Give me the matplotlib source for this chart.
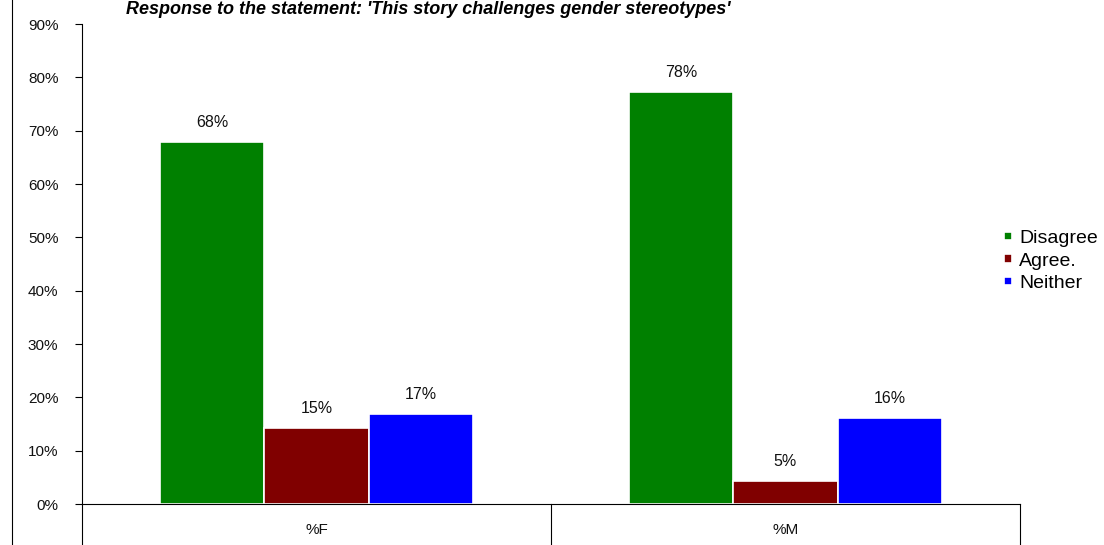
import matplotlib
matplotlib.use("Agg")
import matplotlib.pyplot as plt
from matplotlib.lines import Line2D
import numpy as np

plt.rcParams['font.family'] = ['Liberation Sans', 'DejaVu Sans']

categories = ['%F', '%M']
series = ['Disagree', 'Agree.', 'Neither']
disagree = [67.9, 77.3]
agree = [14.3, 4.3]
neither = [16.9, 16.1]
disagree_labels = ['68%', '78%']
agree_labels = ['15%', '5%']
neither_labels = ['17%', '16%']
yticks = [0, 10, 20, 30, 40, 50, 60, 70, 80, 90]
title = "Response to the statement: 'This story challenges gender stereotypes'"

colors = ['#008000', '#800000', '#0000FF']

fig = plt.figure(figsize=(11.04, 5.45), dpi=100)
ax = fig.add_axes([82/1104, 1-504/545, (1020-82)/1104, (504-24)/545])

x = np.arange(len(categories))
w = 0.222
vals = [disagree, agree, neither]
labs = [disagree_labels, agree_labels, neither_labels]
for i, (v, l, c, s) in enumerate(zip(vals, labs, colors, series)):
    bars = ax.bar(x + (i - 1) * w, v, width=w, color=c, edgecolor='white',
                  linewidth=1.2, label=s, zorder=2)
    for b, t in zip(bars, l):
        ax.text(b.get_x() + b.get_width()/2, b.get_height() + 2.2, t,
                ha='center', va='bottom', fontsize=11.5, color='#111111')

ax.set_xlim(-0.5, 1.5)
ax.set_ylim(0, 90)
ax.set_yticks(yticks)
ax.set_yticklabels([f'{t}%' for t in yticks], fontsize=11, color='#111111')
ax.tick_params(axis='y', direction='out', length=5, width=0.8, pad=12)
ax.set_xticks([])
for sp in ['top', 'right']:
    ax.spines[sp].set_visible(False)
ax.spines['left'].set_linewidth(0.8)
ax.spines['bottom'].set_linewidth(0.8)

# category separators below the axis
depth = 41 / 480 * 90
for xs in [-0.5, 0.5, 1.5]:
    ax.add_line(Line2D([xs, xs], [0, -depth - 2], color='black', lw=0.8,
                       clip_on=False))
for xi, c in zip(x, categories):
    ax.text(xi, -26/480*90, c, ha='center', va='center', fontsize=11,
            color='#111111')

# outer frame line on the left
fig.add_artist(Line2D([12/1104, 12/1104], [0, 1], color='black', lw=0.8))

fig.text(428/1104, 1 - 1/545, title, ha='center', va='top',
         fontsize=13, fontweight='bold', fontstyle='italic')

leg = ax.legend(loc='center left', bbox_to_anchor=(994/1104, 1 - 261/545),
                bbox_transform=fig.transFigure, frameon=False,
                fontsize=14, handlelength=0.45, handleheight=0.32,
                handletextpad=0.35, labelspacing=0.28, borderpad=0)

fig.savefig('out.png', dpi=100)
